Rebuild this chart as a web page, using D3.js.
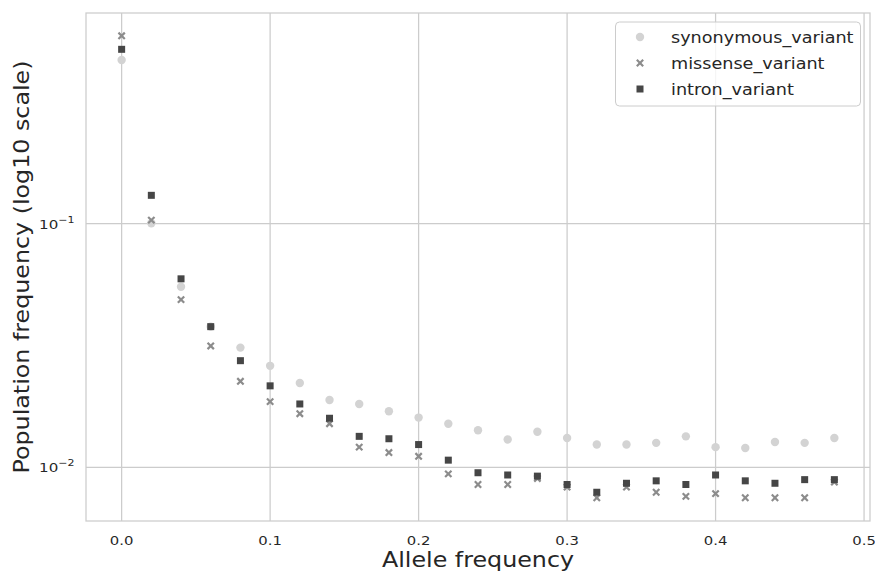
<!DOCTYPE html>
<html>
<head>
<meta charset="utf-8">
<script src="https://cdn.jsdelivr.net/npm/d3@7"></script>
<style>
  body { margin: 0; background: #fff; }
  svg { font-family: "DejaVu Sans", sans-serif; }
</style>
</head>
<body>
<svg id="chart" width="875" height="573"></svg>
<script>
var width = 875;
var height = 573;

// data
var alleleFreq = [0, 0.02, 0.04, 0.06, 0.08, 0.10, 0.12, 0.14, 0.16, 0.18, 0.20, 0.22, 0.24,
                  0.26, 0.28, 0.30, 0.32, 0.34, 0.36, 0.38, 0.40, 0.42, 0.44, 0.46, 0.48];
var synonymous = [0.470, 0.1004, 0.0551, 0.0378, 0.0310, 0.0261, 0.0222, 0.0189, 0.0182, 0.0170, 0.0160,
                  0.0151, 0.0142, 0.0130, 0.0140, 0.0132, 0.0124, 0.0124, 0.0126, 0.0134, 0.0121, 0.0120,
                  0.0127, 0.0126, 0.0132];
var missense = [0.591, 0.1035, 0.0488, 0.0315, 0.02255, 0.0186, 0.0166, 0.0151, 0.0121, 0.0115, 0.0111,
                0.0094, 0.0085, 0.0085, 0.0090, 0.0083, 0.0075, 0.0083, 0.0079, 0.0076, 0.0078, 0.0075,
                0.0075, 0.0075, 0.0087];
var intron = [0.520, 0.1308, 0.0594, 0.0378, 0.0274, 0.0216, 0.0182, 0.0159, 0.0134, 0.0131, 0.0124,
              0.0107, 0.0095, 0.0093, 0.0092, 0.0085, 0.0079, 0.0086, 0.0088, 0.0085, 0.0093, 0.0088,
              0.0086, 0.0089, 0.0089];
var seriesNames = ["synonymous_variant", "missense_variant", "intron_variant"];
var seriesColors = ["#d3d3d3", "#8c8c8c", "#464646"];
var xTicks = [0, 0.1, 0.2, 0.3, 0.4, 0.5];
var yTicks = [-1, -2]; // exponents

var margin = {left: 86, right: 5, top: 13, bottom: 52};
// text in the picture is a bit wider than plain DejaVu
var stretch = 1.16;

var svg = d3.select("#chart");

var x = d3.scaleLinear()
    .domain([-0.024, 0.504])
    .range([margin.left, width - margin.right]);

var y = d3.scaleLog()
    .domain([0.00602, 0.733])
    .range([height - margin.bottom, margin.top]);

// gridlines
var grid = svg.append("g");
grid.selectAll("line.vx")
    .data(xTicks)
    .enter().append("line")
    .attr("x1", function(d) { return x(d); })
    .attr("x2", function(d) { return x(d); })
    .attr("y1", margin.top)
    .attr("y2", height - margin.bottom)
    .attr("stroke", "#cccccc")
    .attr("stroke-width", 1.25);
grid.selectAll("line.hy")
    .data(yTicks)
    .enter().append("line")
    .attr("x1", margin.left)
    .attr("x2", width - margin.right)
    .attr("y1", function(d) { return y(Math.pow(10, d)); })
    .attr("y2", function(d) { return y(Math.pow(10, d)); })
    .attr("stroke", "#cccccc")
    .attr("stroke-width", 1.25);

// frame
svg.append("rect")
    .attr("x", margin.left)
    .attr("y", margin.top)
    .attr("width", width - margin.right - margin.left)
    .attr("height", height - margin.bottom - margin.top)
    .attr("fill", "none")
    .attr("stroke", "#cccccc")
    .attr("stroke-width", 1.25);

// x tick labels
svg.append("g").selectAll("text")
    .data(xTicks)
    .enter().append("text")
    .attr("transform", function(d) { return "translate(" + x(d) + ",545) scale(" + stretch + ",1)"; })
    .attr("text-anchor", "middle")
    .attr("font-size", 12.8)
    .attr("fill", "#262626")
    .text(function(d) { return d3.format(".1f")(d); });

// y tick labels: 10^e
var yl = svg.append("g").selectAll("text")
    .data(yTicks)
    .enter().append("text")
    .attr("transform", function(d) { return "translate(74.5," + (y(Math.pow(10, d)) + 5) + ") scale(" + stretch + ",1)"; })
    .attr("text-anchor", "end")
    .attr("font-size", 13)
    .attr("fill", "#262626");
yl.append("tspan").text("10");
yl.append("tspan")
    .attr("dy", -6)
    .attr("font-size", 9.5)
    .text(function(d) { return "\u2212" + Math.abs(d); });

// axis labels
svg.append("text")
    .attr("transform", "translate(" + x(0.24) + ",567) scale(" + stretch + ",1)")
    .attr("text-anchor", "middle")
    .attr("font-size", 20.5)
    .attr("fill", "#262626")
    .text("Allele frequency");

svg.append("text")
    .attr("transform", "translate(28.5," + ((margin.top + height - margin.bottom) / 2) + ") rotate(-90) scale(" + stretch + ",1)")
    .attr("text-anchor", "middle")
    .attr("font-size", 20.5)
    .attr("fill", "#262626")
    .text("Population frequency (log10 scale)");

// markers
function drawMarker(sel, kind, color) {
    if (kind === 0) {
        sel.append("circle").attr("r", 4.2).attr("fill", color);
    } else if (kind === 1) {
        sel.append("path")
            .attr("d", d3.symbol().type(d3.symbolTimes).size(28))
            .attr("stroke", color)
            .attr("stroke-width", 2.2);
    } else {
        sel.append("rect")
            .attr("x", -3.5).attr("y", -3.5)
            .attr("width", 7).attr("height", 7)
            .attr("fill", color);
    }
}

var allSeries = [synonymous, missense, intron];
allSeries.forEach(function(values, i) {
    var g = svg.append("g");
    g.selectAll("g")
        .data(values)
        .enter().append("g")
        .attr("transform", function(d, j) { return "translate(" + x(alleleFreq[j]) + "," + y(d) + ")"; })
        .each(function() { drawMarker(d3.select(this), i, seriesColors[i]); });
});

// legend
var legend = svg.append("g");
legend.append("rect")
    .attr("x", 615.5)
    .attr("y", 22)
    .attr("width", 245)
    .attr("height", 84)
    .attr("rx", 4)
    .attr("fill", "#ffffff")
    .attr("fill-opacity", 0.8)
    .attr("stroke", "#cccccc")
    .attr("stroke-width", 1);

var rows = legend.selectAll("g.row")
    .data(seriesNames)
    .enter().append("g")
    .attr("transform", function(d, i) { return "translate(640," + (37 + i * 26) + ")"; });
rows.each(function(d, i) { drawMarker(d3.select(this), i, seriesColors[i]); });
rows.append("text")
    .attr("transform", "translate(31,5.5) scale(" + stretch + ",1)")
    .attr("font-size", 15.2)
    .attr("fill", "#262626")
    .text(function(d) { return d; });
</script>
</body>
</html>
